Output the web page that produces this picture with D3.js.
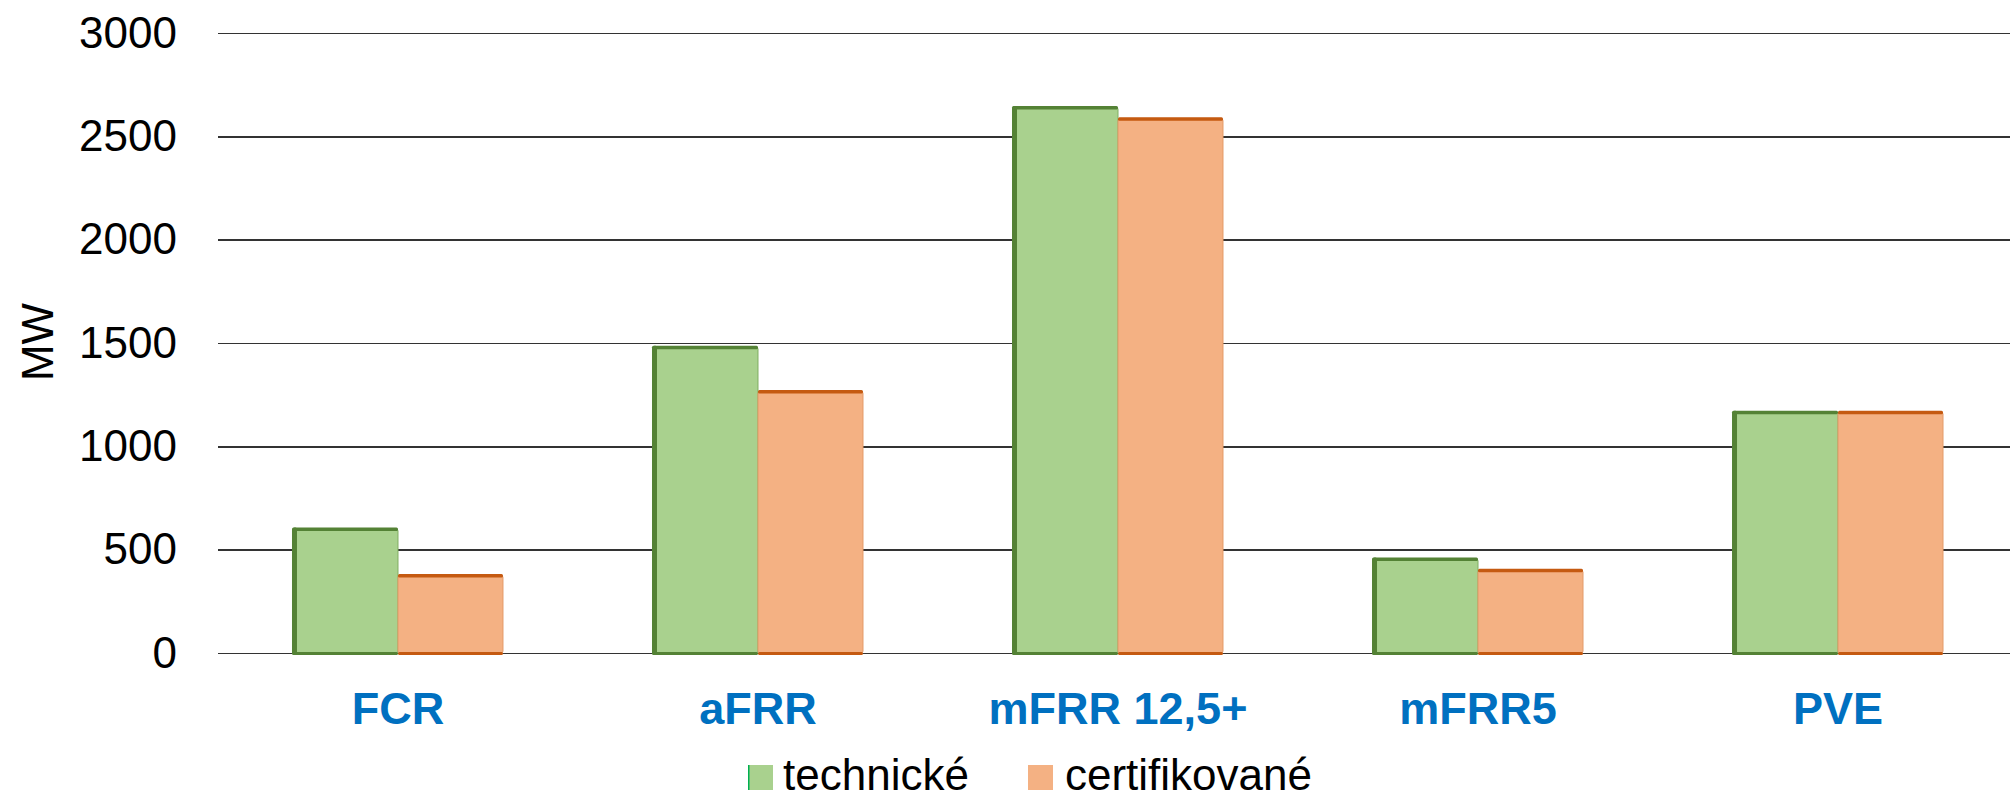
<!DOCTYPE html>
<html>
<head>
    <meta charset="utf-8">
    <script src="https://cdn.jsdelivr.net/npm/d3@7"></script>
    <style>
        body { margin: 0; background: #fff; }
        .chart text { font-family: Arial, "Liberation Sans", sans-serif; }
        .chart .tick line { stroke: #333; stroke-width: 1.6; shape-rendering: crispEdges; }
        .chart .tick text { font-size: 44px; fill: #000; }
        .xlabel { font-size: 45px; font-weight: bold; fill: #0070c0; }
        .legend text { font-size: 44px; fill: #000; }
    </style>
</head>
<body>

<svg class="chart"></svg>

<script type="text/javascript">
    var categories = ["FCR", "aFRR", "mFRR 12,5+", "mFRR5", "PVE"];
    var seriesNames = ["technické", "certifikované"];
    var technicke = [600, 1480, 2640, 455, 1165];
    var certifikovane = [375, 1265, 2585, 400, 1165];
    var yTicks = [0, 500, 1000, 1500, 2000, 2500, 3000];

    var width = 2010;
    var height = 796;
    var plotLeft = 218, plotRight = 2018, gridRight = 2010, plotTop = 33, plotBottom = 653;

    var fills = { "technické": "#a9d18e", "certifikované": "#f4b183" };
    var edges = { "technické": "#548235", "certifikované": "#c55a11" };
    var sides = { "technické": "#7fae62", "certifikované": "#e49a68" };

    var chart = d3.select(".chart")
        .attr("width", width)
        .attr("height", height);

    var scaleX = d3.scaleBand()
        .domain(categories)
        .range([plotLeft, plotRight])
        .paddingInner(0.4167)
        .paddingOuter(0.2083);

    var scaleSub = d3.scaleBand()
        .domain(seriesNames)
        .range([0, scaleX.bandwidth()]);

    var scaleY = d3.scaleLinear()
        .domain([0, 3000])
        .range([plotBottom, plotTop]);

    // gridlines + y labels
    var axisY = d3.axisLeft(scaleY)
        .tickValues(yTicks)
        .tickSize(-(gridRight - plotLeft))
        .tickPadding(41)
        .tickFormat(d3.format("d"));

    chart.append("g")
        .attr("transform", "translate(" + plotLeft + ",0)")
        .call(axisY)
        .call(function (g) { g.select(".domain").remove(); });

    var rows = [];
    for (var i = 0; i < categories.length; i++) {
        rows.push({ cat: categories[i], s: "technické", v: technicke[i] });
        rows.push({ cat: categories[i], s: "certifikované", v: certifikovane[i] });
    }

    var bars = chart.append("g").selectAll("g")
        .data(rows)
        .enter().append("g")
        .attr("transform", function (d) {
            return "translate(" + (scaleX(d.cat) + scaleSub(d.s)) + ",0)";
        });

    var bw = scaleSub.bandwidth();

    // body
    bars.append("rect")
        .attr("x", 0)
        .attr("y", function (d) { return scaleY(d.v); })
        .attr("width", bw)
        .attr("height", function (d) { return scaleY(0) - scaleY(d.v); })
        .attr("rx", 2)
        .attr("fill", function (d) { return fills[d.s]; })
        .attr("stroke", function (d) { return sides[d.s]; })
        .attr("stroke-width", 1);

    // top edge
    bars.append("rect")
        .attr("x", 0)
        .attr("y", function (d) { return scaleY(d.v) - 1.5; })
        .attr("width", bw)
        .attr("height", 3.5)
        .attr("rx", 1.5)
        .attr("fill", function (d) { return edges[d.s]; });

    // bottom edge
    bars.append("rect")
        .attr("x", 0)
        .attr("y", scaleY(0) - 1)
        .attr("width", bw)
        .attr("height", 3)
        .attr("rx", 1.5)
        .attr("fill", function (d) { return edges[d.s]; });

    // left shade on green bars
    bars.filter(function (d) { return d.s === "technické"; })
        .append("rect")
        .attr("x", -1)
        .attr("y", function (d) { return scaleY(d.v) - 1.5; })
        .attr("width", 5)
        .attr("height", function (d) { return scaleY(0) - scaleY(d.v) + 3.5; })
        .attr("rx", 1.5)
        .attr("fill", "#548235");

    // category labels
    chart.append("g").selectAll("text")
        .data(categories)
        .enter().append("text")
        .attr("class", "xlabel")
        .attr("x", function (d) { return scaleX(d) + scaleX.bandwidth() / 2; })
        .attr("y", 724)
        .attr("text-anchor", "middle")
        .text(function (d) { return d; });

    // axis title
    chart.append("text")
        .attr("transform", "translate(53,342) rotate(-90)")
        .attr("text-anchor", "middle")
        .style("font-size", "44px")
        .text("MW");

    // legend
    var legendX = [748, 1028];
    var legend = chart.append("g").attr("class", "legend")
        .selectAll("g")
        .data(seriesNames)
        .enter().append("g")
        .attr("transform", function (d, i) { return "translate(" + legendX[i] + ",765)"; });

    legend.append("rect")
        .attr("width", 25)
        .attr("height", 25)
        .attr("fill", function (d) { return fills[d]; });

    legend.filter(function (d) { return d === "technické"; })
        .append("rect")
        .attr("width", 1.5)
        .attr("height", 25)
        .attr("fill", "#00b050");

    legend.append("text")
        .attr("x", function (d, i) { return i === 0 ? 35 : 37; })
        .attr("y", 25)
        .text(function (d) { return d; });
</script>

</body>
</html>
